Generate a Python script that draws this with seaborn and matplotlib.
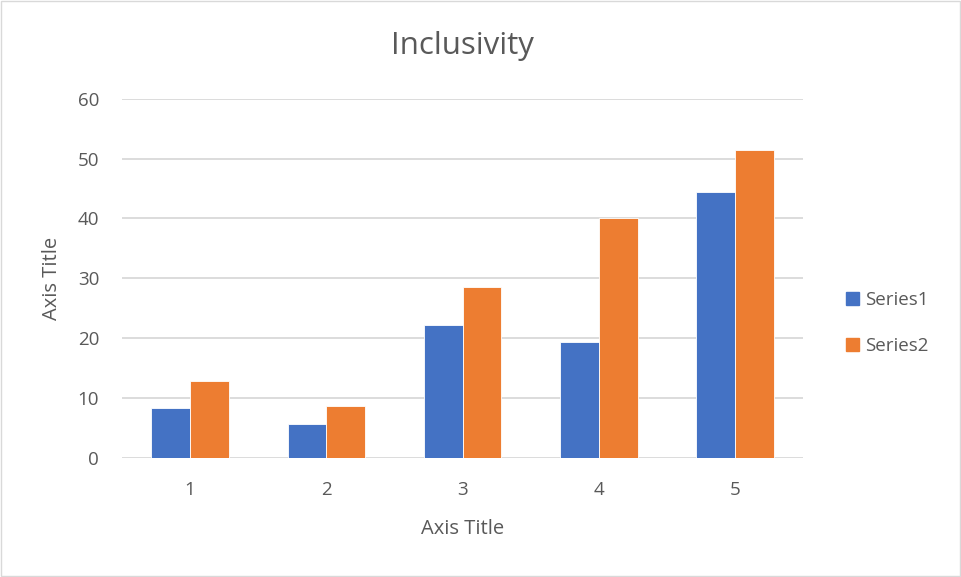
import matplotlib
matplotlib.use("Agg")
import matplotlib.pyplot as plt
import matplotlib.patches as mpatches
import seaborn as sns
import pandas as pd

categories = ["1", "2", "3", "4", "5"]
series1 = [8.35, 5.6, 22.2, 19.4, 44.4]
series2 = [12.85, 8.6, 28.6, 40.0, 51.4]
series_names = ["Series1", "Series2"]
colors = ["#4472C4", "#ED7D31"]
yticks = [0, 10, 20, 30, 40, 50, 60]

df = pd.DataFrame({
    "category": categories * 2,
    "value": series1 + series2,
    "series": [series_names[0]] * len(categories) + [series_names[1]] * len(categories),
})

sns.set_theme(style="white")
plt.rcParams["font.family"] = ["Open Sans", "DejaVu Sans"]
text_color = "#595959"

fig = plt.figure(figsize=(9.61, 5.77), dpi=100)
ax = fig.add_axes([0.127, 0.2068, 0.7086, 0.6222])

sns.barplot(data=df, x="category", y="value", hue="series", order=categories,
            hue_order=series_names, palette=colors, width=0.57, gap=0,
            saturation=1, edgecolor="white", linewidth=0.6, ax=ax, legend=False)

ax.set_xlim(-0.5, 4.5)
ax.set_ylim(0, 60)
ax.set_yticks(yticks)
ax.set_yticklabels([str(v) for v in yticks])
ax.yaxis.grid(True, color="#D9D9D9", linewidth=1.3)
ax.set_axisbelow(True)
for s in ax.spines.values():
    s.set_visible(False)
ax.tick_params(axis="both", length=0, labelsize=13.5, colors=text_color)
ax.tick_params(axis="y", pad=16.5)
ax.tick_params(axis="x", pad=17)
ax.set_xlabel("Axis Title", fontsize=14.5, color=text_color, labelpad=14)
ax.set_ylabel("Axis Title", fontsize=14.5, color=text_color, labelpad=11)
ax.set_title("Inclusivity", fontsize=22.5, color=text_color, pad=32)

handles = [mpatches.Patch(color=c, label=n) for c, n in zip(colors, series_names)]
fig.legend(handles=handles, loc="center left", bbox_to_anchor=(0.863, 0.44),
           frameon=False, fontsize=13.5, labelcolor=text_color,
           handlelength=0.7, handleheight=0.7, handletextpad=0.32,
           labelspacing=1.5)

fig.patches.append(mpatches.Rectangle((0.001, 0.001), 0.998, 0.997,
                                      transform=fig.transFigure, fill=False,
                                      edgecolor="#D9D9D9", linewidth=1))

fig.savefig("out.png", dpi=100, facecolor="white")
